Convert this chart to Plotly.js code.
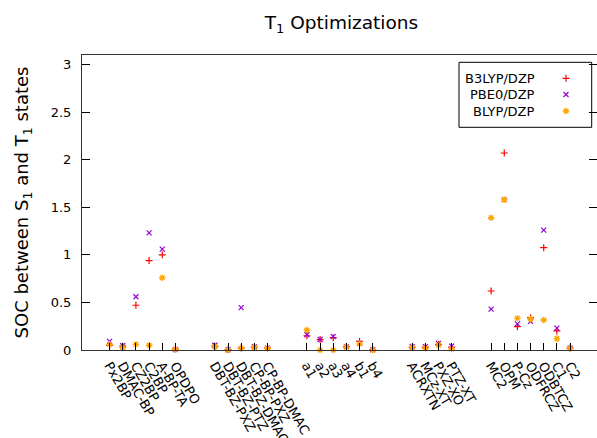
<!DOCTYPE html>
<html>
<head>
<meta charset="utf-8">
<script src="https://cdn.plot.ly/plotly-3.0.1.min.js"></script>
<style>html,body{margin:0;padding:0;background:#fff;}#chart{width:597px;height:438px;}</style>
</head>
<body>
<div id="chart"></div>
<script>
// ---- data ----
const categories = [
  "Px2BP","DMAC-BP","CZ2BP","C2BP","A-BP-TA","OPDPO",
  "DBT-BZ-PXZ","DBT-BZ-PTZ","DBT-BZ-DMAC","CP-BP-PXZ","CP-BP-DMAC",
  "a1","a2","a3","a4","b1","b4",
  "ACRXTN","MCz-XT","PXZ-XO","PTZ-XT",
  "MC2","OPM","P-Cz","ODFRCZ","ODBTCZ","C1","C2"
];
const groupSizes = [6, 5, 6, 4, 7];
const seriesNames = ["B3LYP/DZP", "PBE0/DZP", "BLYP/DZP"];
const b3lyp = [0.05,0.04,0.47,0.94,1.00,0.01,
               0.04,0.005,0.02,0.03,0.02,
               0.15,0.11,0.13,0.035,0.09,0.005,
               0.03,0.03,0.06,0.03,
               0.62,2.07,0.245,0.34,1.075,0.20,0.02];
const pbe0  = [0.09,0.045,0.56,1.23,1.06,0.005,
               0.05,0.003,0.445,0.035,0.02,
               0.16,0.11,0.14,0.035,0.07,0.003,
               0.035,0.035,0.07,0.04,
               0.43,1.58,0.275,0.30,1.26,0.23,0.02];
const blyp  = [0.06,0.025,0.06,0.05,0.76,0.005,
               0.035,0.0,0.02,0.028,0.015,
               0.21,0.0,0.0,0.03,0.065,0.0,
               0.025,0.02,0.05,0.01,
               1.39,1.58,0.333,0.325,0.315,0.12,0.015];
const yTickVals = [0, 0.5, 1, 1.5, 2, 2.5, 3];
const yTickText = ["0", "0.5", "1", "1.5", "2", "2.5", "3"];

// category positions: groups separated by two empty slots
const xPos = [];
let p = 0;
groupSizes.forEach(n => { for (let i = 0; i < n; i++) xPos.push(p++); p += 2; });

const FONT = "DejaVu Sans";
const styles = [
  {symbol: "cross-thin-open", color: "#ff0000", size: 5, width: 1.2},
  {symbol: "x-thin-open", color: "#9400d3", size: 5, width: 1.2},
  {symbol: "asterisk-open", color: "#ffa500", size: 5.5, width: 1.3}
];
const legendIds = ["legend", "legend2", "legend3"];
const values = [b3lyp, pbe0, blyp];
const traces = values.map((v, k) => ({
  type: "scatter", mode: "markers", x: xPos, y: v, name: "",
  cliponaxis: false, hoverinfo: "skip", legend: legendIds[k],
  marker: {symbol: styles[k].symbol, size: styles[k].size, color: styles[k].color,
           line: {color: styles[k].color, width: styles[k].width}}
}));

// layout geometry
const W = 597, H = 438, L = 82, R = 0, T = 55, B = 88;
const pw = W - L - R, ph = H - T - B;
const px = x => (x - L) / pw;
const py = y => (H - B - y) / ph;

const rowsY = [78.3, 94.5, 111];
const annotations = seriesNames.map((n, k) => ({
  text: n, xref: "paper", yref: "paper", x: px(537), y: py(rowsY[k]),
  xanchor: "right", yanchor: "middle", showarrow: false,
  font: {family: FONT, size: 13, color: "#000"}
}));

const layout = {
  width: W, height: H,
  margin: {l: L, r: R, t: T, b: B},
  paper_bgcolor: "#fff", plot_bgcolor: "#fff",
  font: {family: FONT, size: 13, color: "#000"},
  title: {text: "T<sub>1</sub> Optimizations", font: {family: FONT, size: 18.5, color: "#000"},
          xref: "container", x: 0.572, xanchor: "center", yref: "container", y: 0.948, yanchor: "middle"},
  xaxis: {
    range: [-2.1, 37.05], tickmode: "array", tickvals: xPos, ticktext: categories,
    tickangle: 60, ticks: "inside", ticklen: 7, tickcolor: "#000", tickwidth: 1, ticklabelstandoff: 2,
    showgrid: false, zeroline: false, showline: true, mirror: true, linecolor: "#333", linewidth: 1,
    tickfont: {family: FONT, size: 13, color: "#000"}, automargin: false
  },
  yaxis: {
    range: [0, 3.1], tickmode: "array", tickvals: yTickVals, ticktext: yTickText,
    ticks: "inside", ticklen: 8, tickcolor: "#000", tickwidth: 1, ticklabelstandoff: 7,
    showgrid: false, zeroline: false, showline: true, mirror: "ticks", linecolor: "#333", linewidth: 1,
    tickfont: {family: FONT, size: 13, color: "#000"}, automargin: false,
    title: {text: "SOC between S<sub>1</sub> and T<sub>1</sub> states", font: {family: FONT, size: 18, color: "#000"}, standoff: 17}
  },
  showlegend: true,
  shapes: [{type: "rect", xref: "paper", yref: "paper", x0: px(459), x1: px(591.7), y0: py(127.3), y1: py(62.3),
            line: {color: "#000", width: 1}, fillcolor: "rgba(0,0,0,0)"}],
  annotations: annotations
};
legendIds.forEach((id, k) => {
  layout[id] = {x: px(546), xanchor: "left", y: py(rowsY[k]), yanchor: "middle",
                bgcolor: "rgba(0,0,0,0)", borderwidth: 0, font: {family: FONT, size: 10.5}};
});

Plotly.newPlot("chart", traces, layout, {staticPlot: true, displayModeBar: false});
</script>
</body>
</html>
